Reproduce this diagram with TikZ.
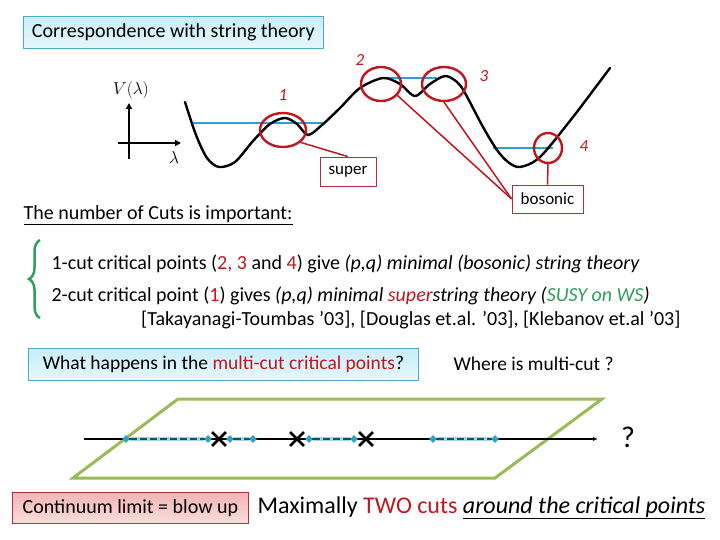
\documentclass[tikz,border=0pt]{standalone}
\usepackage{fontspec}
\setmainfont{Carlito}
\usetikzlibrary{shapes.geometric,shapes.misc,decorations.pathreplacing,arrows.meta}
\definecolor{ppred}{HTML}{C0171F}
\definecolor{ppblue}{HTML}{2FA0CC}
\definecolor{ppgreen}{HTML}{2E9E5B}
\definecolor{ppolive}{HTML}{9BBB59}
\definecolor{ppteal}{HTML}{4BACC6}
\definecolor{ppcyan}{HTML}{C8EEF9}
\definecolor{pppink}{HTML}{F4B4B4}
\definecolor{ppmaroon}{HTML}{B03040}
\newcommand{\rd}[1]{\textcolor{ppred}{#1}}
\newcommand{\fs}[1]{\fontsize{#1}{#1}\selectfont}
\begin{document}
\begin{tikzpicture}[x=1pt, y=-1pt,
  cyanbox/.style={draw=ppteal, top color=ppcyan, bottom color=ppcyan!45, line width=0.8pt, inner sep=0pt, anchor=north west},
  pinkbox/.style={draw=ppmaroon, top color=pppink, bottom color=pppink!45, line width=0.8pt, inner sep=0pt, anchor=north west},
  tag/.style={draw=ppmaroon, fill=white, line width=0.8pt, inner sep=0pt, font=\fs{17}},
  ring/.style={ellipse, draw=ppred, line width=2.4pt, inner sep=0pt},
  num/.style={text=ppred, font=\fs{17}\itshape},
  curve/.style={line width=2.4pt, line cap=round},
  level/.style={ppblue, line width=2.4pt},
  pointer/.style={ppred, line width=1.5pt},
  edge/.style={diamond, fill=ppblue, minimum size=8pt, inner sep=0pt},
  branch/.style={cross out, draw, line width=2.8pt, minimum size=11pt, inner sep=0pt},
  glow/.style={ppblue!45, line width=4pt},
  cut/.style={dash pattern=on 7pt off 3pt, draw=ppblue!50!black, line width=2.6pt},
  txt/.style={anchor=west, font=\fs{20}}
]
\useasboundingbox (0,0) rectangle (720,540);

\node[cyanbox, minimum width=300pt, minimum height=32pt, font=\fs{20}] (title) at (23,16) {Correspondence with string theory};

\node[font=\fs{17}] (vlab) at (131,90) {$V(\lambda)$};
\node[font=\fs{17}] (llab) at (174,158) {$\lambda$};
\coordinate (vb) at (129,159);
\coordinate (vt) at (129,103);
\coordinate (hl) at (118,143);
\coordinate (hr) at (181,143);
\draw[line width=2.4pt, -{Triangle[length=6pt, width=6pt]}] (vb) -- (vt);
\draw[line width=2.4pt, -{Triangle[length=6pt, width=6pt]}] (hl) -- (hr);

\draw[level] (193,123) -- (324,123);
\draw[level] (383,78) -- (437,78);
\draw[level] (493,148) -- (553,148);
\draw[curve] plot[smooth, tension=0.5] coordinates {(185,102) (196,135) (207,158) (219,167) (235,162) (253,141) (270,124) (285,118) (297,124) (308,135) (322,125) (340,108) (360,88) (383,78) (400,84) (415,96) (430,84) (445,76) (457,82) (465,93) (483,127) (497,150) (508,162) (520,167) (540,157) (573,117) (610,68)};

\node[ring, minimum width=46pt, minimum height=34pt] (c1) at (283,130) {};
\node[ring, minimum width=40pt, minimum height=34pt] (c2) at (381,84) {};
\node[ring, minimum width=44pt, minimum height=34pt] (c3) at (444,84) {};
\node[ring, minimum width=28pt, minimum height=30pt] (c4) at (548,148) {};
\node[num] (n1) at (283,95) {1};
\node[num] (n2) at (360,60) {2};
\node[num] (n3) at (484,76) {3};
\node[num] (n4) at (584,146) {4};

\node[tag, minimum width=56pt, minimum height=29pt] (super) at (348,171.5) {super};
\node[tag, minimum width=71pt, minimum height=28pt] (bosonic) at (547.5,199) {bosonic};
\draw[pointer] (c1.-35) -- (super.north);
\draw[pointer] (c2.-35) -- (bosonic.west);
\draw[pointer] (c3.south) -- (bosonic.west);
\draw[pointer] (c4.south) -- (bosonic.north);

\node[anchor=west, font=\fs{20}] (cuts) at (20,215) {\underline{The number of Cuts is important:}};
\draw[ppgreen, line width=2.5pt, decorate, decoration={brace, amplitude=11pt}] (40,318) -- (40,240);
\node[txt] (one) at (48,264) {1-cut critical points (\rd{2, 3} and \rd{4}) give \textit{(p,q) minimal (bosonic) string theory}};
\node[txt] (two) at (48,296) {2-cut critical point (\rd{1}) gives \textit{(p,q) minimal \rd{super}string theory (\textcolor{ppgreen}{SUSY on WS})}};
\node[txt, anchor=east] (refs) at (684,320) {[Takayanagi-Toumbas ’03], [Douglas et.al. ’03], [Klebanov et.al ’03]};

\node[cyanbox, minimum width=390pt, minimum height=32pt, font=\fs{19.5}] (question) at (28,348) {What happens in the \rd{multi-cut critical points}?};
\node[anchor=west, font=\fs{19.5}] (where) at (450,364) {Where is multi-cut ?};

\draw[ppolive, line width=3pt] (178,399) -- (602,399) -- (495,478) -- (73,478) -- cycle;
\coordinate (axl) at (84,439);
\coordinate (axr) at (598,439);
\draw[line width=1.3pt, -{Latex[length=5pt, width=4pt]}] (axl) -- (axr);
\node[font=\fs{30}] (qmark) at (628,437) {?};
\node[edge] (d1) at (126,439) {};
\node[edge] (d2) at (208,439) {};
\node[edge] (d3) at (230,439) {};
\node[edge] (d4) at (253,439) {};
\node[edge] (d5) at (309,439) {};
\node[edge] (d6) at (354,439) {};
\node[edge] (d7) at (433,439) {};
\node[edge] (d8) at (495,439) {};
\node[branch] (x1) at (219,439) {};
\node[branch] (x2) at (297,439) {};
\node[branch] (x3) at (366,439) {};
\foreach \a/\b in {d1/d2, d3/d4, d5/d6, d7/d8} {
  \draw[glow] (\a) -- (\b);
  \draw[cut] (\a) -- (\b);
}

\node[pinkbox, minimum width=236pt, minimum height=31pt, font=\fs{20}] (continuum) at (12,492) {Continuum limit = blow up};
\node[anchor=west, font=\fs{24}] (maximally) at (254,508) {Maximally \rd{TWO cuts} \underline{\textit{around the critical points}}};
\end{tikzpicture}
\end{document}
